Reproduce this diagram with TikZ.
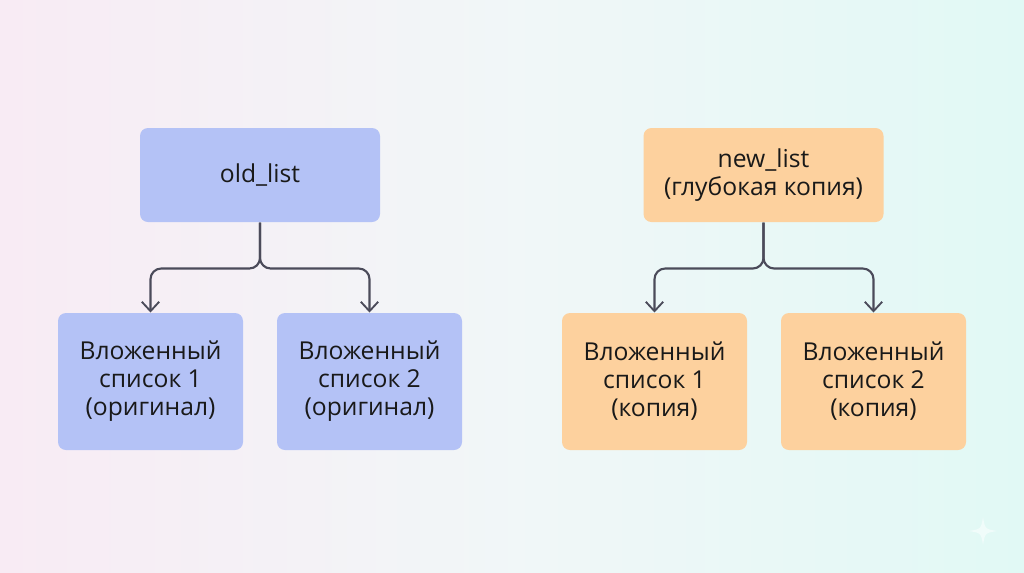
\documentclass[tikz,border=0pt]{standalone}
\usepackage{fontspec}
\setmainfont{Open Sans}
\usetikzlibrary{arrows.meta}

\definecolor{oldfill}{HTML}{B4C2F6}
\definecolor{newfill}{HTML}{FDD19E}
\definecolor{linkgray}{HTML}{4B4B5A}
\definecolor{bgpink}{HTML}{F8EBF4}
\definecolor{bgcyan}{HTML}{E1F9F5}

\tikzset{every picture/.style={line width=0.75pt}}
\tikzset{
  listbox/.style={rounded corners=6pt, align=center, inner sep=0pt, text=black!90,
    font=\fontsize{18.5}{21}\selectfont},
  rootbox/.style={listbox, minimum width=180pt, minimum height=70.5pt},
  childbox/.style={listbox, minimum width=138.75pt, minimum height=102.75pt},
  link/.style={draw=linkgray, line width=1.6pt, rounded corners=8pt,
    -{Straight Barb[length=7pt, width=13pt, line width=1.4pt]}}
}

\begin{document}
\begin{tikzpicture}[x=0.75pt,y=0.75pt,yscale=-1,xscale=1]
%background, sets the size of the diagram
\path [left color=bgpink, right color=bgcyan, middle color=white!50!bgpink!60!bgcyan] (0,0) rectangle (1024,572);

% Root Nodes
\node [rootbox, fill=oldfill] (old) at (260,175) {old\_list};
\node [rootbox, fill=newfill] (new) at (763.5,175) {new\_list\\(глубокая копия)};

% Child Nodes
\node [childbox, fill=oldfill] (oldA) at (150.5,381.5) {Вложенный\\список 1\\(оригинал)};
\node [childbox, fill=oldfill] (oldB) at (369.5,381.5) {Вложенный\\список 2\\(оригинал)};
\node [childbox, fill=newfill] (newA) at (654.5,381.5) {Вложенный\\список 1\\(копия)};
\node [childbox, fill=newfill] (newB) at (873.5,381.5) {Вложенный\\список 2\\(копия)};

% Connectors
\draw [link] (old.south) -- ++(0,46) -| (oldA.north);
\draw [link] (old.south) -- ++(0,46) -| (oldB.north);
\draw [link] (new.south) -- ++(0,46) -| (newA.north);
\draw [link] (new.south) -- ++(0,46) -| (newB.north);

% sparkle
\fill [white, opacity=0.5] (983,517) .. controls (985,529) and (985,529) .. (997,531) .. controls (985,533) and (985,533) .. (983,545) .. controls (981,533) and (981,533) .. (969,531) .. controls (981,529) and (981,529) .. (983,517) -- cycle;

\end{tikzpicture}
\end{document}
